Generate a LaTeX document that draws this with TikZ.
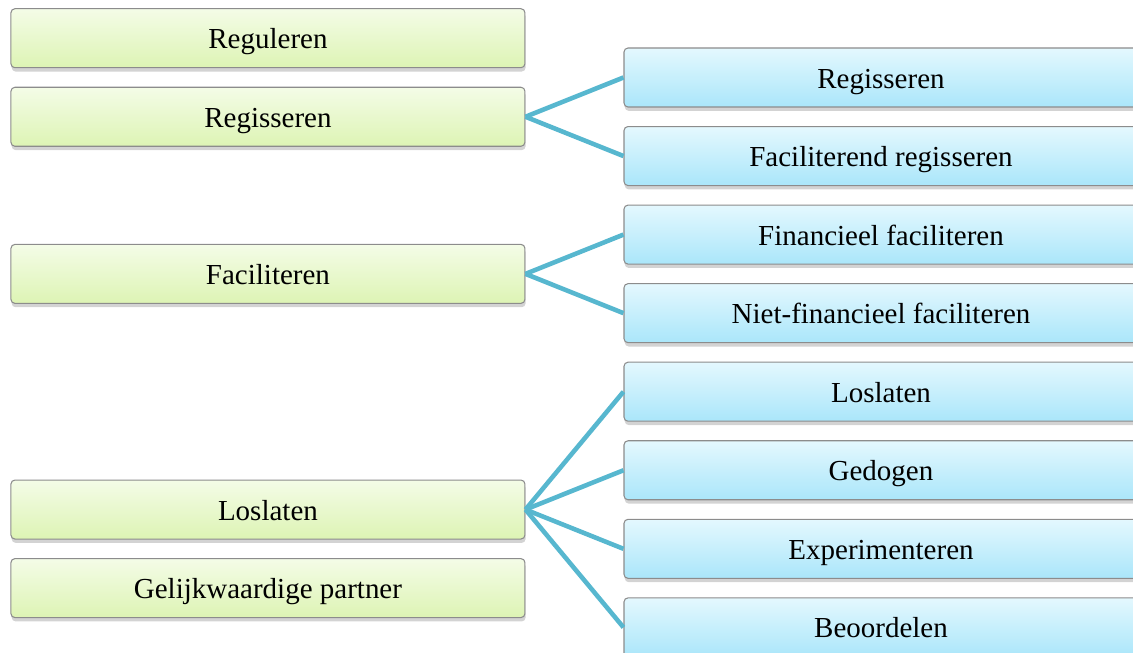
\documentclass[tikz,border=0pt]{standalone}
\usepackage{fontspec}
\setmainfont{Liberation Serif}
\usetikzlibrary{positioning, calc, shadows}
\definecolor{groentop}{HTML}{F4FCE7}
\definecolor{groenbot}{HTML}{DDF4B4}
\definecolor{blauwtop}{HTML}{E4F8FE}
\definecolor{blauwbot}{HTML}{AAE6FA}
\definecolor{lijn}{HTML}{57B7CF}
\definecolor{rand}{HTML}{8C8C8C}

\begin{document}
\begin{tikzpicture}[
    node distance=0.37cm,
    vak/.style={draw=rand, line width=0.6pt, rounded corners=0.08cm, minimum width=10.28cm, minimum height=1.18cm,
        font=\fontsize{16.5}{19}\selectfont, text height=15pt, text depth=3pt,
        drop shadow={opacity=0.35, shadow xshift=0.4pt, shadow yshift=-2.2pt}},
    groen/.style={vak, top color=groentop, bottom color=groenbot},
    blauw/.style={vak, top color=blauwtop, bottom color=blauwbot},
    tak/.style={draw=lijn, line width=2.6pt}
]
    \useasboundingbox (0,0) rectangle (22.66,-13.06);

    % Blue column (right)
    \node[blauw] (regis) at (17.62,-1.55) {Regisseren};
    \node[blauw, below=of regis] (facreg) {Faciliterend regisseren};
    \node[blauw, below=of facreg] (finfac) {Financieel faciliteren};
    \node[blauw, below=of finfac] (nietfin) {Niet-financieel faciliteren};
    \node[blauw, below=of nietfin] (loslat) {Loslaten};
    \node[blauw, below=of loslat] (gedogen) {Gedogen};
    \node[blauw, below=of gedogen] (exper) {Experimenteren};
    \node[blauw, below=of exper] (beoord) {Beoordelen};

    % Green column (left)
    \coordinate (m1) at ($(regis.west)!0.5!(facreg.west)$);
    \coordinate (m2) at ($(finfac.west)!0.5!(nietfin.west)$);
    \coordinate (m3) at ($(gedogen.west)!0.5!(exper.west)$);
    \node[groen, left=1.96cm of m1] (gregis) {Regisseren};
    \node[groen, above=of gregis] (greg) {Reguleren};
    \node[groen, left=1.96cm of m2] (gfac) {Faciliteren};
    \node[groen, left=1.96cm of m3] (glos) {Loslaten};
    \node[groen, below=of glos] (gpartner) {Gelijkwaardige partner};

    % Branches
    \draw[tak] (gregis.east) -- (regis.west);
    \draw[tak] (gregis.east) -- (facreg.west);
    \draw[tak] (gfac.east) -- (finfac.west);
    \draw[tak] (gfac.east) -- (nietfin.west);
    \foreach \b in {loslat, gedogen, exper, beoord}
        \draw[tak] (glos.east) -- (\b.west);
\end{tikzpicture}
\end{document}
